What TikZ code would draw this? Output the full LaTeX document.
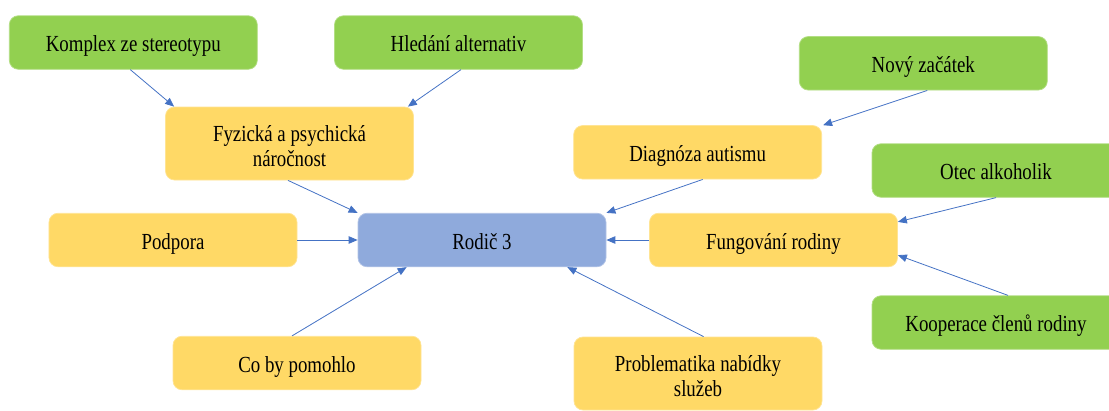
\documentclass[tikz,border=0pt]{standalone}
\usepackage{fontspec}
\setmainfont{Liberation Serif}
\newfontfamily\boxfont[FakeStretch=0.82]{Liberation Serif}
\usetikzlibrary{arrows.meta}
\definecolor{leafgreen}{HTML}{92D050}
\definecolor{topicgold}{HTML}{FFD966}
\definecolor{corebl}{HTML}{8FAADC}
\definecolor{linkblue}{HTML}{4472C4}
\begin{document}
\begin{tikzpicture}[x=1bp,y=-1bp,
  box/.style={rounded corners=9bp, minimum width=248bp, minimum height=53.5bp,
    inner sep=0pt, align=center, text=black, line width=0.75bp,
    font=\boxfont\fontsize{23bp}{25bp}\selectfont,
    text height=20bp, text depth=2bp},
  tall/.style={minimum height=73bp, text height=47bp, text depth=2bp},
  leaf/.style={box, fill=leafgreen, draw=leafgreen!70!white},
  topic/.style={box, fill=topicgold, draw=topicgold!70!white},
  core/.style={box, fill=corebl, draw=corebl!70!white},
  link/.style={draw=linkblue, line width=0.8bp, -{Triangle[length=9bp,width=7.5bp]}}]
\useasboundingbox (0,0) rectangle (1109,410);

% outer causes
\node[leaf] (komplex) at (133.3,42.5) {Komplex ze stereotypu};
\node[leaf] (hledani) at (458.5,42.5) {Hledání alternativ};
\node[leaf] (novy) at (923.3,63.3) {Nový začátek};
\node[leaf] (otec) at (996,170.5) {Otec alkoholik};
\node[leaf] (koop) at (996,322.5) {Kooperace členů rodiny};

% main themes
\node[topic,tall] (fyz) at (289.5,143.5) {Fyzická a psychická\\náročnost};
\node[topic] (diag) at (697.7,152.3) {Diagnóza autismu};
\node[topic] (podpora) at (173,240) {Podpora};
\node[topic] (fung) at (773.5,240) {Fungování rodiny};
\node[topic] (coby) at (297,363) {Co by pomohlo};
\node[topic,tall] (probl) at (698,373.5) {Problematika nabídky\\služeb};

% centre
\node[core] (rodic) at (482,240) {Rodič 3};

% connectors
\draw[link] ([xshift=-3bp]komplex.south) -- ([xshift=9bp]fyz.north west);
\draw[link] ([xshift=2.5bp]hledani.south) -- ([xshift=-6bp]fyz.north east);
\draw[link] ([xshift=-1.5bp]fyz.south) -- (rodic.north west);
\draw[link] (podpora.east) -- (rodic.west);
\draw[link] ([xshift=-5bp]coby.north) -- ([xshift=49bp]rodic.south west);
\draw[link] ([xshift=5.6bp]probl.north) -- ([xshift=-39bp]rodic.south east);
\draw[link] ([xshift=5bp]diag.south) -- (rodic.north east);
\draw[link] (fung.west) -- (rodic.east);
\draw[link] ([xshift=4bp]novy.south) -- ([xshift=1bp]diag.north east);
\draw[link] (otec.south) -- ([yshift=-9bp]fung.north east);
\draw[link] ([xshift=12bp]koop.north) -- ([yshift=12bp]fung.south east);
\end{tikzpicture}
\end{document}
